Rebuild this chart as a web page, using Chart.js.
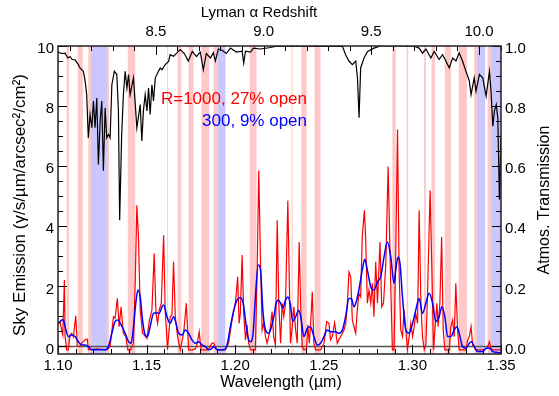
<!DOCTYPE html>
<html>
<head>
<meta charset="utf-8">
<script src="https://cdn.jsdelivr.net/npm/chart.js@4.4.0/dist/chart.umd.min.js"></script>
<style>
  html, body { margin: 0; padding: 0; background: #fff; }
</style>
</head>
<body>
<canvas id="myChart" width="559" height="396"></canvas>
<script>
// Lyman alpha rest wavelength (µm) used for the top redshift axis
const lyaRest = 0.1216;

// open windows (µm)
const pinkBands = [
  [1.1049, 1.1062], [1.1111, 1.1140], [1.1171, 1.1288], [1.1394, 1.1436],
  [1.1615, 1.1620], [1.1675, 1.1696], [1.1737, 1.1765], [1.1809, 1.1854],
  [1.1878, 1.1901], [1.2082, 1.2120], [1.2318, 1.2324], [1.2373, 1.2403],
  [1.2448, 1.2482], [1.2887, 1.2906], [1.2968, 1.2976], [1.3066, 1.3076],
  [1.3108, 1.3127], [1.3183, 1.3217], [1.3261, 1.3308], [1.3349, 1.3364],
  [1.3425, 1.3443]
];
const blueBands = [
  [1.1187, 1.1275], [1.1901, 1.1945], [1.3364, 1.3410], [1.3443, 1.3500]
];

// R=1000 sky emission
const redWave = [
  1.1002, 1.1011, 1.1027, 1.1036, 1.1040, 1.1049, 1.1058, 1.1068, 1.1077, 1.1087,
  1.1100, 1.1109, 1.1122, 1.1134, 1.1153, 1.1166, 1.1171, 1.1221, 1.1275, 1.1294,
  1.1313, 1.1322, 1.1335, 1.1345, 1.1356, 1.1369, 1.1383, 1.1394, 1.1410, 1.1426,
  1.1436, 1.1445, 1.1454, 1.1464, 1.1477, 1.1489, 1.1502, 1.1516, 1.1530, 1.1543,
  1.1553, 1.1562, 1.1571, 1.1583, 1.1596, 1.1605, 1.1618, 1.1633, 1.1643, 1.1652,
  1.1662, 1.1675, 1.1690, 1.1709, 1.1724, 1.1737, 1.1758, 1.1775, 1.1784, 1.1797,
  1.1807, 1.1848, 1.1869, 1.1878, 1.1888, 1.1898, 1.1945, 1.1963, 1.1982, 1.2001,
  1.2014, 1.2022, 1.2029, 1.2039, 1.2048, 1.2058, 1.2067, 1.2076, 1.2086, 1.2114,
  1.2124, 1.2133, 1.2143, 1.2152, 1.2161, 1.2171, 1.2180, 1.2189, 1.2199, 1.2208,
  1.2217, 1.2227, 1.2237, 1.2246, 1.2256, 1.2265, 1.2274, 1.2284, 1.2297, 1.2307,
  1.2312, 1.2322, 1.2331, 1.2341, 1.2350, 1.2361, 1.2369, 1.2378, 1.2387, 1.2403,
  1.2410, 1.2418, 1.2425, 1.2435, 1.2444, 1.2454, 1.2482, 1.2501, 1.2516, 1.2529,
  1.2538, 1.2548, 1.2561, 1.2576, 1.2585, 1.2595, 1.2605, 1.2614, 1.2624, 1.2633,
  1.2642, 1.2652, 1.2661, 1.2680, 1.2689, 1.2698, 1.2708, 1.2717, 1.2729, 1.2736,
  1.2746, 1.2755, 1.2765, 1.2774, 1.2783, 1.2793, 1.2803, 1.2817, 1.2827, 1.2837,
  1.2850, 1.2863, 1.2878, 1.2887, 1.2896, 1.2906, 1.2916, 1.2925, 1.2934, 1.2944,
  1.2953, 1.2963, 1.2972, 1.2982, 1.2991, 1.3001, 1.3010, 1.3019, 1.3029, 1.3038,
  1.3048, 1.3057, 1.3067, 1.3076, 1.3085, 1.3100, 1.3110, 1.3119, 1.3127, 1.3138,
  1.3145, 1.3155, 1.3165, 1.3174, 1.3183, 1.3208, 1.3217, 1.3227, 1.3236, 1.3245,
  1.3255, 1.3264, 1.3302, 1.3312, 1.3321, 1.3331, 1.3340, 1.3349, 1.3359, 1.3406,
  1.3422, 1.3435, 1.3444, 1.3455, 1.3500
];
const redFlux = [
  0.77, 0.82, 0.38, 2.21, 0.33, -0.11, -0.11, 0.38, 0.44, 0.32,
  1.02, 0.00, 0.00, 0.11, 0.22, 0.24, -0.11, -0.08, -0.11, 0.00,
  0.99, 0.94, 1.60, 0.66, 1.32, 0.44, 0.33, -0.11, -0.11, 0.11,
  2.21, 4.70, 3.64, 1.21, 0.44, 0.37, 0.27, 0.88, 1.21, 3.09,
  1.10, 0.77, 1.21, 1.44, 3.70, 1.21, -0.11, 0.99, 1.05, 2.82,
  0.99, 0.33, -0.11, 0.44, 1.44, -0.11, -0.11, -0.08, 0.05, 0.49,
  -0.11, -0.11, 0.11, 0.11, 0.00, -0.11, -0.11, 0.11, 0.88, 1.44,
  2.32, 0.77, 1.10, 3.04, 1.10, 0.22, 0.72, 0.11, -0.11, -0.11,
  2.54, 5.86, 2.76, 0.55, 0.77, 0.33, 0.11, 0.33, 0.66, 1.16,
  0.33, 0.05, 4.20, 1.44, 0.11, 1.44, 0.99, 1.44, 4.86, 1.65,
  0.11, 0.66, 1.32, 0.55, 0.11, 3.48, 1.44, 0.00, -0.11, -0.08,
  0.72, 0.11, 0.66, 1.82, 0.11, -0.11, -0.11, 0.11, 0.83, 0.77,
  0.22, 0.33, 0.79, 0.11, 0.22, 0.33, 0.44, 0.55, 0.77, 1.44,
  2.48, 2.32, 0.88, 0.44, 1.21, 1.77, 1.65, 3.64, 4.53, 3.64,
  1.44, 1.88, 1.44, 2.10, 0.99, 2.82, 1.44, 3.48, 1.32, 1.44,
  2.76, 5.99, 1.99, -0.11, -0.11, 3.09, 7.22, 2.54, 0.55, 0.33,
  1.21, 0.55, -0.11, 0.33, 0.77, 0.33, 0.66, 1.10, 0.77, 4.53,
  1.44, 0.33, -0.11, 0.05, 1.65, 5.19, 2.54, -0.11, 0.55, 1.44,
  0.66, 1.44, 3.64, 0.55, -0.11, -0.11, 0.66, 0.88, 0.33, 2.10,
  0.55, -0.11, -0.11, 0.22, 0.33, 0.66, 0.05, -0.03, -0.11, -0.11,
  -0.05, 0.16, -0.08, -0.11, -0.11
];

// R=300 sky emission
const blueWave = [
  1.1002, 1.1011, 1.1021, 1.1030, 1.1040, 1.1058, 1.1077, 1.1096, 1.1115, 1.1134,
  1.1153, 1.1171, 1.1191, 1.1226, 1.1266, 1.1285, 1.1304, 1.1322, 1.1338, 1.1356,
  1.1379, 1.1398, 1.1413, 1.1426, 1.1439, 1.1451, 1.1464, 1.1477, 1.1492, 1.1505,
  1.1520, 1.1539, 1.1558, 1.1571, 1.1587, 1.1596, 1.1615, 1.1633, 1.1652, 1.1666,
  1.1680, 1.1700, 1.1718, 1.1737, 1.1756, 1.1775, 1.1794, 1.1813, 1.1831, 1.1850,
  1.1869, 1.1878, 1.1898, 1.1935, 1.1954, 1.1973, 1.1992, 1.2011, 1.2029, 1.2045,
  1.2058, 1.2071, 1.2086, 1.2101, 1.2114, 1.2130, 1.2143, 1.2156, 1.2171, 1.2189,
  1.2205, 1.2218, 1.2231, 1.2243, 1.2256, 1.2269, 1.2284, 1.2297, 1.2312, 1.2325,
  1.2341, 1.2359, 1.2373, 1.2387, 1.2407, 1.2425, 1.2444, 1.2463, 1.2482, 1.2501,
  1.2520, 1.2538, 1.2567, 1.2585, 1.2605, 1.2623, 1.2642, 1.2656, 1.2670, 1.2686,
  1.2698, 1.2717, 1.2731, 1.2746, 1.2765, 1.2783, 1.2803, 1.2821, 1.2840, 1.2859,
  1.2878, 1.2896, 1.2906, 1.2919, 1.2930, 1.2944, 1.2963, 1.2981, 1.3001, 1.3019,
  1.3038, 1.3057, 1.3076, 1.3094, 1.3114, 1.3132, 1.3151, 1.3166, 1.3183, 1.3199,
  1.3217, 1.3236, 1.3251, 1.3264, 1.3283, 1.3302, 1.3321, 1.3334, 1.3349, 1.3368,
  1.3397, 1.3416, 1.3435, 1.3454, 1.3482, 1.3500
];
const blueFlux = [
  0.77, 0.82, 0.88, 0.88, 0.66, 0.33, 0.38, 0.33, 0.16, 0.05,
  0.05, 0.00, -0.11, -0.11, -0.11, 0.00, 0.44, 0.83, 0.88, 0.72,
  0.44, 0.16, 0.11, 0.66, 1.44, 1.88, 1.65, 0.88, 0.38, 0.33,
  0.66, 1.10, 1.12, 1.10, 1.32, 1.38, 0.99, 0.77, 0.99, 0.77,
  0.44, 0.38, 0.55, 0.44, 0.22, 0.11, 0.16, 0.05, 0.00, -0.11,
  -0.06, 0.00, -0.11, -0.11, 0.05, 0.66, 1.21, 1.55, 1.63, 1.44,
  0.88, 0.33, 0.16, 0.44, 1.65, 2.71, 2.54, 1.21, 0.55, 0.44,
  0.66, 0.99, 1.44, 1.55, 1.44, 1.27, 1.55, 1.65, 1.38, 0.83,
  0.99, 1.21, 0.88, 0.33, 0.61, 0.66, 0.33, 0.05, 0.11, 0.33,
  0.55, 0.49, 0.49, 0.44, 0.55, 0.99, 1.60, 1.60, 1.32, 1.55,
  1.88, 2.54, 2.90, 2.54, 1.99, 1.88, 2.15, 2.32, 2.98, 3.48,
  2.98, 2.10, 2.54, 2.98, 2.76, 1.65, 0.55, 0.44, 0.77, 1.21,
  1.60, 1.10, 1.44, 1.77, 1.44, 0.83, 0.99, 1.32, 0.99, 0.33,
  0.33, 0.55, 0.66, 0.44, 0.00, -0.06, 0.11, 0.16, 0.00, -0.17,
  -0.17, -0.06, -0.06, -0.17, -0.20, -0.22
];

// atmospheric transmission
const transWave = [
  1.1000, 1.1020, 1.1040, 1.1055, 1.1068, 1.1080, 1.1096, 1.1115, 1.1124, 1.1143,
  1.1153, 1.1162, 1.1171, 1.1181, 1.1191, 1.1200, 1.1209, 1.1219, 1.1228, 1.1238,
  1.1247, 1.1256, 1.1266, 1.1275, 1.1285, 1.1294, 1.1304, 1.1318, 1.1332, 1.1341,
  1.1348, 1.1359, 1.1369, 1.1379, 1.1389, 1.1398, 1.1407, 1.1426, 1.1445, 1.1464,
  1.1473, 1.1482, 1.1492, 1.1502, 1.1511, 1.1520, 1.1530, 1.1539, 1.1549, 1.1567,
  1.1577, 1.1587, 1.1605, 1.1624, 1.1633, 1.1652, 1.1671, 1.1690, 1.1713, 1.1735,
  1.1758, 1.1781, 1.1803, 1.1820, 1.1837, 1.1860, 1.1877, 1.1888, 1.1905, 1.1928,
  1.1950, 1.1973, 1.2007, 1.2039, 1.2048, 1.2058, 1.2086, 1.2103, 1.2143, 1.2199,
  1.2239, 1.2605, 1.2623, 1.2642, 1.2661, 1.2680, 1.2690, 1.2699, 1.2708, 1.2727,
  1.2747, 1.2783, 1.2821, 1.2991, 1.3010, 1.3038, 1.3057, 1.3076, 1.3104, 1.3123,
  1.3151, 1.3170, 1.3189, 1.3208, 1.3227, 1.3246, 1.3264, 1.3283, 1.3302, 1.3321,
  1.3331, 1.3349, 1.3359, 1.3378, 1.3397, 1.3416, 1.3435, 1.3443, 1.3454, 1.3463,
  1.3473, 1.3482, 1.3491, 1.3500
];
const transValue = [
  0.980, 0.975, 0.976, 0.960, 0.965, 0.955, 0.954, 0.938, 0.927, 0.916,
  0.884, 0.838, 0.694, 0.772, 0.728, 0.817, 0.728, 0.827, 0.606, 0.751,
  0.817, 0.585, 0.794, 0.694, 0.706, 0.694, 0.871, 0.916, 0.905, 0.784,
  0.420, 0.700, 0.838, 0.916, 0.860, 0.905, 0.838, 0.894, 0.728, 0.805,
  0.684, 0.784, 0.838, 0.784, 0.860, 0.772, 0.871, 0.817, 0.894, 0.916,
  0.927, 0.921, 0.938, 0.949, 0.971, 0.966, 0.977, 0.988, 0.975, 0.950,
  0.982, 0.965, 0.980, 0.921, 0.975, 0.960, 0.978, 0.950, 0.990, 0.985,
  0.975, 0.993, 0.980, 0.983, 0.943, 0.983, 0.980, 0.993, 0.990, 0.995,
  1.000, 0.999, 0.971, 0.950, 0.938, 0.950, 0.894, 0.761, 0.927, 0.960,
  0.982, 0.993, 1.000, 1.000, 0.999, 0.993, 0.976, 0.990, 0.960, 0.982,
  0.955, 0.971, 0.950, 0.927, 0.960, 0.950, 0.977, 0.950, 0.916, 0.884,
  0.838, 0.894, 0.850, 0.905, 0.894, 0.833, 0.916, 0.855, 0.733, 0.784,
  0.805, 0.761, 0.489, 0.700
];

// axis ranges and tick labels
const waveMin = 1.10, waveMax = 1.35;
const fluxMin = -0.25, fluxMax = 10;
const transMin = -0.025, transMax = 1.0;
const waveLabels = [1.10, 1.15, 1.20, 1.25, 1.30, 1.35];
const redshiftLabels = [8.5, 9.0, 9.5, 10.0];
const fluxLabels = [0, 2, 4, 6, 8, 10];
const transLabels = [0.0, 0.2, 0.4, 0.6, 0.8, 1.0];

const FONT = '"Liberation Sans", Arial, Helvetica, sans-serif';

function toPoints(xs, ys) {
  return xs.map((x, i) => ({ x: x, y: ys[i] }));
}
function isIn(list, v) {
  return list.some(l => Math.abs(l - v) < 1e-6);
}

const bandPlugin = {
  id: 'bands',
  beforeDatasetsDraw(chart) {
    const { ctx, chartArea: a, scales: { x } } = chart;
    ctx.save();
    const fill = (bands, color) => {
      ctx.fillStyle = color;
      bands.forEach(b => {
        const p0 = x.getPixelForValue(b[0]);
        const p1 = x.getPixelForValue(b[1]);
        ctx.fillRect(p0, a.top, p1 - p0, a.bottom - a.top);
      });
    };
    fill(pinkBands, 'rgb(255,200,200)');
    fill(blueBands, 'rgb(200,200,255)');
    ctx.restore();
  }
};

// inward ticks (IDL style) and the plot frame
const frameTicks = {
  id: 'frameTicks',
  afterDatasetsDraw(chart) {
    const { ctx, chartArea: a, scales } = chart;
    ctx.save();
    ctx.strokeStyle = '#000';
    ctx.lineWidth = 1;
    ['x', 'x2', 'y', 'y2'].forEach(id => {
      const s = scales[id];
      s.ticks.forEach(t => {
        const len = t.label !== '' ? 9 : 5;
        const p = Math.round(s.getPixelForValue(t.value)) + 0.5;
        ctx.beginPath();
        if (id === 'x') { ctx.moveTo(p, a.bottom); ctx.lineTo(p, a.bottom - len); }
        if (id === 'x2') { ctx.moveTo(p, a.top); ctx.lineTo(p, a.top + len); }
        if (id === 'y') { ctx.moveTo(a.left, p); ctx.lineTo(a.left + len, p); }
        if (id === 'y2') { ctx.moveTo(a.right, p); ctx.lineTo(a.right - len, p); }
        ctx.stroke();
      });
    });
    ctx.lineWidth = 1.5;
    ctx.strokeStyle = '#222';
    ctx.strokeRect(a.left, a.top, a.right - a.left, a.bottom - a.top);
    ctx.restore();
  }
};

const textPlugin = {
  id: 'texts',
  afterDraw(chart) {
    const { ctx, chartArea: a } = chart;
    const midY = (a.top + a.bottom) / 2;
    ctx.save();
    ctx.fillStyle = '#000';
    ctx.textBaseline = 'middle';
    ctx.textAlign = 'center';
    ctx.font = '16px ' + FONT;
    ctx.fillText('Wavelength (\u00b5m)', 281, 383);
    ctx.font = '15px ' + FONT;
    ctx.fillText('Lyman \u03b1 Redshift', 259, 13);
    ctx.font = '17px ' + FONT;
    ctx.save();
    ctx.translate(20, midY + 5);
    ctx.rotate(-Math.PI / 2);
    ctx.fillText('Sky Emission (\u03b3/s/\u00b5m/arcsec\u00b2/cm\u00b2)', 0, 0);
    ctx.restore();
    ctx.font = '16px ' + FONT;
    ctx.save();
    ctx.translate(545, midY);
    ctx.rotate(-Math.PI / 2);
    ctx.fillText('Atmos. Transmission', 0, 0);
    ctx.restore();
    ctx.textAlign = 'right';
    ctx.font = '17px ' + FONT;
    ctx.fillStyle = '#ff0000';
    ctx.fillText('R=1000, 27% open', 307, 99);
    ctx.fillStyle = '#0000ff';
    ctx.fillText('300, 9% open', 307, 121);
    ctx.restore();
  }
};

const tickFont = { family: FONT, size: 15 };

const ctx = document.getElementById('myChart').getContext('2d');
const myChart = new Chart(ctx, {
  type: 'line',
  data: {
    datasets: [
      {
        label: 'R=300',
        data: toPoints(blueWave, blueFlux),
        yAxisID: 'y',
        borderColor: '#0000ff',
        borderWidth: 1.5,
        pointRadius: 0,
        cubicInterpolationMode: 'monotone'
      },
      {
        label: 'R=1000',
        data: toPoints(redWave, redFlux),
        yAxisID: 'y',
        borderColor: '#ff0000',
        borderWidth: 1.2,
        pointRadius: 0,
        tension: 0
      },
      {
        label: 'Transmission',
        data: toPoints(transWave, transValue),
        yAxisID: 'y2',
        borderColor: '#000',
        borderWidth: 1.2,
        pointRadius: 0,
        tension: 0
      },
      {
        label: 'zero',
        data: [{ x: waveMin, y: 0 }, { x: waveMax, y: 0 }],
        yAxisID: 'y',
        borderColor: '#555',
        borderWidth: 1.5,
        pointRadius: 0
      }
    ]
  },
  options: {
    responsive: false,
    animation: false,
    devicePixelRatio: 1,
    layout: { padding: 0 },
    plugins: { legend: { display: false }, tooltip: { enabled: false } },
    scales: {
      x: {
        type: 'linear', position: 'bottom', min: waveMin, max: waveMax,
        grid: { display: false, drawTicks: false }, border: { display: false },
        ticks: {
          stepSize: 0.01, autoSkip: false, maxRotation: 0, padding: 3,
          color: '#000', font: tickFont, includeBounds: false,
          callback: v => isIn(waveLabels, v) ? v.toFixed(2) : ''
        },
        afterFit: s => { s.height = 42; }
      },
      x2: {
        type: 'linear', position: 'top',
        min: waveMin / lyaRest - 1, max: waveMax / lyaRest - 1,
        grid: { display: false, drawTicks: false }, border: { display: false },
        ticks: {
          stepSize: 0.1, autoSkip: false, maxRotation: 0, padding: 5,
          color: '#000', font: tickFont, includeBounds: false,
          callback: v => isIn(redshiftLabels, v) ? v.toFixed(1) : ''
        },
        afterFit: s => { s.height = 46; }
      },
      y: {
        type: 'linear', position: 'left', min: fluxMin, max: fluxMax,
        grid: { display: false, drawTicks: false }, border: { display: false },
        ticks: {
          stepSize: 0.5, autoSkip: false, padding: 4, labelOffset: 3,
          color: '#000', font: tickFont, includeBounds: false,
          callback: v => isIn(fluxLabels, v) ? String(Math.round(v)) : ''
        },
        afterFit: s => { s.width = 58; }
      },
      y2: {
        type: 'linear', position: 'right', min: transMin, max: transMax,
        grid: { display: false, drawTicks: false }, border: { display: false },
        ticks: {
          stepSize: 0.05, autoSkip: false, padding: 4, labelOffset: 3,
          color: '#000', font: tickFont, includeBounds: false,
          callback: v => isIn(transLabels, v) ? v.toFixed(1) : ''
        },
        afterFit: s => { s.width = 58; }
      }
    }
  },
  plugins: [bandPlugin, frameTicks, textPlugin]
});
</script>
</body>
</html>
